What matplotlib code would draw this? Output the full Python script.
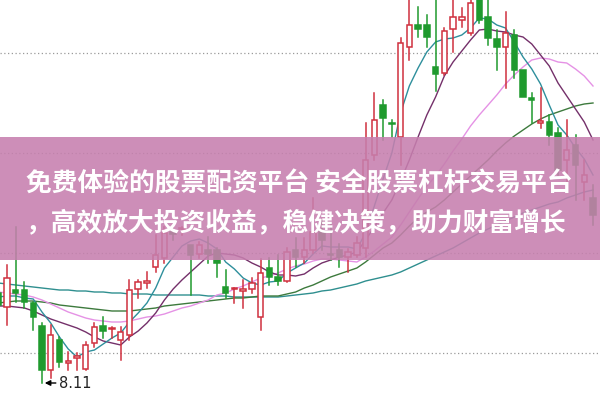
import matplotlib
matplotlib.use("Agg")
import matplotlib.pyplot as plt
import numpy as np
from matplotlib.patches import Rectangle

# ---- data (prices) ----
idx = list(range(-1, 68))
opens = [9.01, 8.87, 9.04, 9.04, 8.91, 8.68, 8.24, 8.54, 8.31, 8.36, 8.25, 8.51, 8.68, 8.65, 8.54, 8.59, 9.05, 9.11, 9.27, 9.36, 9.62, 9.65,
         9.49, 9.40, 9.44, 9.44, 9.07, 9.05, 9.03, 9.05, 8.77, 9.26, 9.17, 9.13, 9.44, 9.37, 9.44, 9.62, 9.40, 9.44, 9.37, 9.39, 9.46, 10.39,
         10.89, 10.71, 10.57, 11.47, 11.69, 11.69, 11.27, 11.21, 11.65, 11.74, 11.61, 11.99, 11.77, 11.55, 11.47, 11.59, 11.24, 10.96, 10.71,
         10.72, 10.61, 10.34, 10.49, 10.12, 9.96]
highs = [9.09, 9.29, 9.67, 9.12, 8.92, 8.71, 8.69, 8.57, 8.42, 8.41, 8.52, 8.71, 8.77, 8.67, 8.67, 9.14, 9.14, 9.22, 9.59, 9.67, 9.67, 9.67,
         9.49, 9.52, 9.57, 9.46, 9.24, 9.06, 9.14, 9.16, 9.35, 9.36, 9.39, 9.46, 9.56, 9.56, 9.96, 9.74, 9.71, 9.50, 9.45, 9.57, 10.71, 11.01,
         10.94, 10.74, 11.56, 12.00, 11.87, 11.79, 12.00, 11.66, 12.00, 11.86, 12.00, 12.00, 12.00, 11.64, 11.82, 11.64, 11.24, 11.01, 11.06,
         10.79, 10.66, 10.74, 10.59, 10.34, 10.09]
lows = [8.84, 8.69, 8.92, 8.86, 8.64, 8.11, 8.16, 8.27, 8.24, 8.24, 8.24, 8.47, 8.56, 8.56, 8.34, 8.54, 8.96, 9.06, 9.22, 9.31, 9.54, 9.59,
        8.99, 9.36, 9.31, 9.17, 8.96, 8.91, 8.86, 9.01, 8.64, 9.09, 9.09, 9.12, 9.27, 9.31, 9.41, 9.44, 9.34, 9.27, 9.22, 9.37, 9.37, 10.34,
        10.54, 10.57, 10.29, 11.34, 11.57, 11.47, 11.03, 11.19, 11.42, 11.67, 11.59, 11.71, 11.49, 11.24, 11.06, 11.16, 10.97, 10.71, 10.66,
        10.49, 10.19, 10.09, 9.94, 9.94, 9.69]
closes = [8.89, 9.16, 9.01, 8.92, 8.77, 8.24, 8.59, 8.32, 8.33, 8.38, 8.49, 8.67, 8.63, 8.65, 8.62, 9.04, 9.12, 9.13, 9.39, 9.61, 9.60, 9.65,
          9.39, 9.49, 9.40, 9.31, 9.01, 9.05, 9.05, 9.11, 9.21, 9.17, 9.13, 9.42, 9.37, 9.44, 9.62, 9.54, 9.39, 9.37, 9.42, 9.51, 10.34, 10.74,
          10.76, 10.70, 11.51, 11.69, 11.65, 11.57, 11.20, 11.63, 11.77, 11.77, 11.91, 11.74, 11.56, 11.47, 11.61, 11.24, 10.97, 10.94, 10.73,
          10.59, 10.24, 10.44, 10.29, 10.19, 9.79]

# moving-average lines, read at every candle
ma5 = [8.97, 8.98, 8.98, 8.96, 8.95, 8.82, 8.71, 8.57, 8.45, 8.37, 8.42, 8.44, 8.50, 8.56, 8.61, 8.72, 8.81, 8.91, 9.06, 9.26, 9.37,
       9.48, 9.53, 9.55, 9.51, 9.45, 9.32, 9.25, 9.16, 9.11, 9.09, 9.12, 9.13, 9.21, 9.26, 9.31, 9.40, 9.48, 9.47, 9.47, 9.47, 9.45,
       9.61, 9.88, 10.15, 10.41, 10.81, 11.08, 11.26, 11.42, 11.52, 11.55, 11.56, 11.59, 11.66, 11.76, 11.75, 11.69, 11.66, 11.52, 11.37,
       11.25, 11.10, 10.89, 10.69, 10.59, 10.46, 10.35, 10.19]
ma10 = [8.88, 8.88, 8.87, 8.86, 8.83, 8.79, 8.75, 8.72, 8.69, 8.66, 8.62, 8.57, 8.53, 8.51, 8.49, 8.57, 8.63, 8.71, 8.81, 8.94, 9.05,
        9.14, 9.22, 9.30, 9.38, 9.41, 9.40, 9.39, 9.36, 9.31, 9.27, 9.22, 9.19, 9.19, 9.18, 9.20, 9.26, 9.31, 9.34, 9.37, 9.39, 9.42,
        9.54, 9.67, 9.81, 9.94, 10.13, 10.34, 10.57, 10.79, 10.97, 11.18, 11.32, 11.43, 11.54, 11.64, 11.65, 11.63, 11.62, 11.59, 11.57,
        11.50, 11.39, 11.28, 11.11, 10.98, 10.85, 10.72, 10.54]
ma20 = [9.02, 9.01, 9.00, 8.99, 8.97, 8.94, 8.90, 8.86, 8.82, 8.79, 8.76, 8.74, 8.73, 8.72, 8.72, 8.73, 8.75, 8.77, 8.78, 8.80, 8.83,
        8.86, 8.88, 8.91, 8.94, 8.99, 9.01, 9.05, 9.08, 9.12, 9.16, 9.18, 9.21, 9.25, 9.28, 9.30, 9.33, 9.35, 9.35, 9.34, 9.33, 9.32,
        9.37, 9.43, 9.50, 9.57, 9.69, 9.82, 9.95, 10.08, 10.18, 10.30, 10.43, 10.55, 10.68, 10.79, 10.89, 10.99, 11.10, 11.19, 11.27,
        11.34, 11.36, 11.35, 11.32, 11.31, 11.25, 11.18, 11.08]
ma30 = [8.91, 8.92, 8.93, 8.93, 8.93, 8.92, 8.91, 8.89, 8.88, 8.87, 8.86, 8.85, 8.84, 8.83, 8.83, 8.83, 8.84, 8.85, 8.86, 8.88, 8.89,
        8.90, 8.91, 8.92, 8.93, 8.94, 8.95, 8.96, 8.96, 8.97, 8.98, 8.98, 8.98, 9.00, 9.02, 9.06, 9.09, 9.13, 9.17, 9.20, 9.23, 9.26,
        9.32, 9.39, 9.46, 9.51, 9.59, 9.68, 9.76, 9.82, 9.87, 9.94, 10.02, 10.10, 10.18, 10.26, 10.34, 10.43, 10.51, 10.58, 10.64,
        10.70, 10.75, 10.79, 10.82, 10.85, 10.88, 10.90, 10.91]
ma60 = [9.11, 9.10, 9.09, 9.08, 9.07, 9.06, 9.05, 9.04, 9.04, 9.03, 9.03, 9.02, 9.02, 9.01, 9.01, 9.00, 9.00, 9.00, 8.99, 8.99, 8.99,
        8.99, 8.99, 8.99, 8.98, 8.98, 8.98, 8.97, 8.97, 8.97, 8.97, 8.97, 8.97, 8.98, 8.99, 9.00, 9.01, 9.03, 9.04, 9.06, 9.08, 9.10,
        9.13, 9.15, 9.17, 9.19, 9.22, 9.26, 9.30, 9.34, 9.38, 9.42, 9.46, 9.51, 9.56, 9.61, 9.65, 9.69, 9.73, 9.77, 9.81, 9.84, 9.87,
        9.90, 9.92, 9.96, 9.99, 10.02, 10.04]

grid_levels = [11.41, 10.41, 9.41, 8.41]
low_value = 8.11
low_index = 4
low_label = "8.11"
title_line1 = "免费体验的股票配资平台 安全股票杠杆交易平台"
title_line2 = "，高效放大投资收益，稳健决策，助力财富增长"

RED = "#d0303e"
GREEN = "#1f9a2e"

fig = plt.figure(figsize=(6, 4), dpi=100)
ax = fig.add_axes([0, 0, 1, 1])
ax.set_xlim(-0.8, 67.8)
ax.set_ylim(7.94, 11.94)
ax.axis("off")

for g in grid_levels:
    ax.axhline(g, color="#9a9a9a", lw=0.9, ls=(0, (1, 2)), zorder=1)

x = np.array(idx, dtype=float)
ax.plot(x, ma60, color="#2f8f8f", lw=1.0, zorder=3)
ax.plot(x, ma30, color="#3d7a3d", lw=1.0, zorder=3)
ax.plot(x, ma20, color="#e592e5", lw=1.0, zorder=3)
ax.plot(x, ma10, color="#74306a", lw=1.0, zorder=3)
ax.plot(x, ma5, color="#2e8f9c", lw=1.0, zorder=3)

w = 0.62
for i in range(len(idx)):
    o, h, l, c = opens[i], highs[i], lows[i], closes[i]
    up = c >= o
    col = RED if up else GREEN
    top, bot = max(o, c), min(o, c)
    ax.plot([x[i], x[i]], [top, h], color=col, lw=1.1, zorder=4)
    ax.plot([x[i], x[i]], [l, bot], color=col, lw=1.1, zorder=4)
    hgt = max(top - bot, 0.012)
    ax.add_patch(Rectangle((x[i] - w / 2, bot), w, hgt,
                           facecolor="white" if up else col,
                           edgecolor=col, lw=1.1, zorder=5))

# lowest-price marker
ax.annotate("", xy=(low_index, low_value), xytext=(low_index + 1.9, low_value),
            arrowprops=dict(arrowstyle="-|>", color="black", lw=1.0, mutation_scale=8), zorder=6)
ax.text(low_index + 2.0, low_value, low_label, fontsize=10.5, color="#222222", va="center",
        ha="left", family="DejaVu Sans", zorder=6)

# banner
fig.patches.append(Rectangle((0, 1 - 260 / 400), 1, 123 / 400, transform=fig.transFigure,
                             facecolor="#c67fae", alpha=0.88, zorder=10, edgecolor="none"))
fig.text(26 / 600, 1 - 183 / 400, title_line1, fontsize=18.5, color="white", fontweight="bold",
         family=["Noto Sans CJK SC", "DejaVu Sans"], va="center", ha="left", zorder=11)
fig.text(26 / 600, 1 - 223 / 400, title_line2, fontsize=18.5, color="white", fontweight="bold",
         family=["Noto Sans CJK SC", "DejaVu Sans"], va="center", ha="left", zorder=11)

fig.savefig("out.png", dpi=100)
